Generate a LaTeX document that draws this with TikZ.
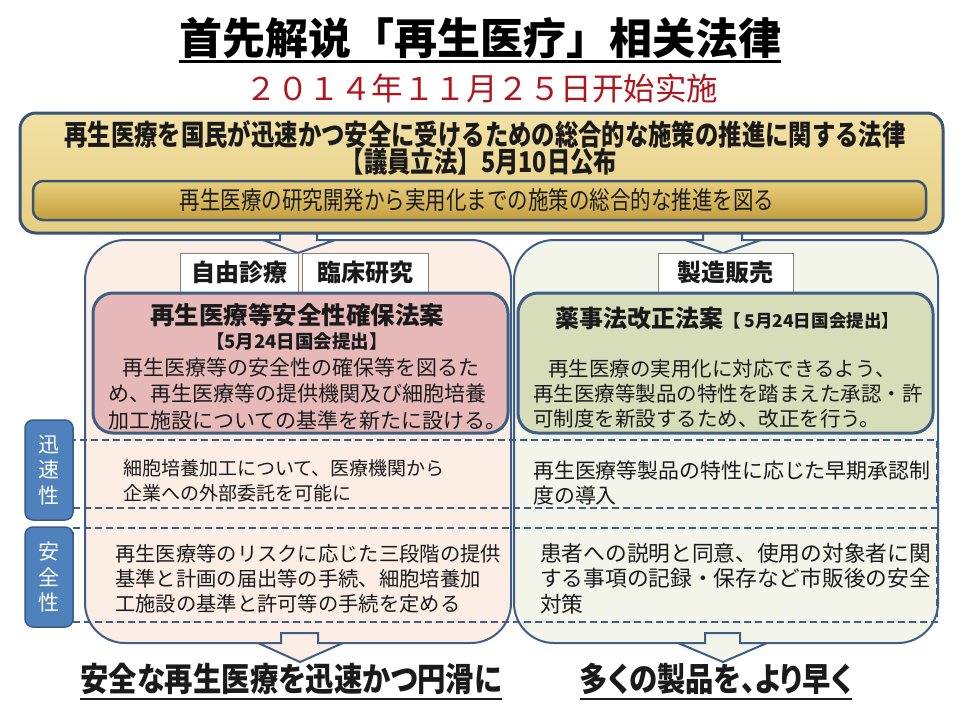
\documentclass[tikz,border=0pt]{standalone}
\usepackage{fontspec}
\newfontfamily\scfont{Noto Sans CJK SC}
\newfontfamily\jp{Noto Sans CJK JP}
\newfontfamily\jpc{Noto Sans CJK JP}[FakeStretch=0.82]
\newfontfamily\jpp{Noto Sans CJK JP}[FakeStretch=0.86,RawFeature=+palt]
\definecolor{bord}{HTML}{3F5E85}
\definecolor{topbord}{HTML}{3A5474}
\definecolor{lfill}{HTML}{FCEEE5}
\definecolor{rfill}{HTML}{F3F4EA}
\definecolor{pinkfill}{HTML}{E6B9B8}
\definecolor{greenfill}{HTML}{D8DDB9}
\definecolor{tabbord}{HTML}{7F7F7F}
\definecolor{labfill}{HTML}{4F81BD}
\definecolor{labbord}{HTML}{385D8A}
\definecolor{datered}{HTML}{B0141C}
\definecolor{goldA}{HTML}{F2E1A4}
\definecolor{goldB}{HTML}{D8B757}
\definecolor{goldC}{HTML}{E6CD82}
\definecolor{goldD}{HTML}{E8CF7A}
\definecolor{goldE}{HTML}{C49E40}
\definecolor{txt}{HTML}{1A1A1A}
\tikzset{
  bigbox/.style={draw=bord, line width=2pt, rounded corners=40pt, inner sep=0pt},
  lawbox/.style={draw=bord, line width=3pt, rounded corners=20pt, inner sep=0pt},
  tabbox/.style={draw=tabbord, line width=1pt, fill=white, inner sep=0pt, text=txt, font=\jp\bfseries\fontsize{24}{28}\selectfont},
  labbox/.style={draw=labbord, line width=1.5pt, fill=labfill, rounded corners=8pt, inner sep=0pt, text=white, align=center, font=\jp\fontsize{21}{25.5}\selectfont},
  rowbox/.style={draw=bord, line width=1.6pt, dash pattern=on 7pt off 4pt, inner sep=0pt},
  blockarrow/.style={draw=bord, line width=2pt, line join=miter},
  para/.style={anchor=base west, align=left, inner sep=0pt, text=txt},
  uline/.style={line width=2.5pt, draw=txt},
}
\begin{document}
\begin{tikzpicture}[x=1pt,y=-1pt]
\path[use as bounding box, fill=white] (0,0) rectangle (960,720);

% big boxes
\node[bigbox, fill=lfill, minimum width=426pt, minimum height=403pt] (lbig) at (298,441.5) {};
\node[bigbox, fill=rfill, minimum width=424pt, minimum height=403pt] (rbig) at (726,441.5) {};

% top block arrows
\fill[lfill] (280,222) rectangle (317,241.5);
\fill[lfill] (263,240) -- (335,240) -- (298,253) -- cycle;
\draw[blockarrow] (280,222) -- (280,240) -- (263,240) -- (298,253) -- (335,240) -- (317,240) -- (317,222);
\fill[rfill] (703,222) rectangle (742,241.5);
\fill[rfill] (685,240) -- (761,240) -- (723,253) -- cycle;
\draw[blockarrow] (703,222) -- (703,240) -- (685,240) -- (723,253) -- (761,240) -- (742,240) -- (742,222);

% bottom block arrows
\fill[lfill] (281,633) rectangle (318,645);
\fill[lfill] (258,643) -- (343,643) -- (300,662) -- cycle;
\draw[blockarrow] (281,633) -- (318,633) -- (318,643) -- (343,643) -- (300,662) -- (258,643) -- (281,643) -- cycle;
\fill[rfill] (705,633) rectangle (740,645);
\fill[rfill] (678,643) -- (767,643) -- (723,662) -- cycle;
\draw[blockarrow] (705,633) -- (740,633) -- (740,643) -- (767,643) -- (723,662) -- (678,643) -- (705,643) -- cycle;

% top gold box
\node[draw=topbord, line width=3pt, rounded corners=16pt, inner sep=0pt,
      top color=goldA, middle color=goldB, bottom color=goldC,
      minimum width=923pt, minimum height=120pt] (top) at (481.5,173) {};
\node[draw=topbord, line width=2.5pt, rounded corners=10pt, inner sep=0pt,
      top color=goldD, bottom color=goldE,
      minimum width=893pt, minimum height=39pt] (topin) at (479.5,200.5) {};
\node[inner sep=0pt, text=txt, font=\jpc\bfseries\fontsize{28.5}{32}\selectfont] (topl1) at (485,134) {再生医療を国民が迅速かつ安全に受けるための総合的な施策の推進に関する法律};
\node[inner sep=0pt, text=txt, font=\jpc\bfseries\fontsize{28.5}{32}\selectfont] (topl2) at (479,162) {【議員立法】5月10日公布};
\node[inner sep=0pt, text=txt, font=\jpc\fontsize{25}{30}\selectfont] (topl3) at (477,200) {再生医療の研究開発から実用化までの施策の総合的な推進を図る};

% tabs
\node[tabbox, minimum width=118pt, minimum height=39pt] (tab1) at (239,272.5) {自由診療};
\node[tabbox, minimum width=126pt, minimum height=39pt] (tab2) at (365,272.5) {臨床研究};
\node[tabbox, minimum width=135pt, minimum height=39pt] (tab3) at (725.5,272.5) {製造販売};

% law boxes
\node[lawbox, fill=pinkfill, minimum width=415pt, minimum height=140pt] (pink) at (300.5,363) {};
\node[lawbox, fill=greenfill, minimum width=415pt, minimum height=140pt] (green) at (725.5,363) {};

\node[inner sep=0pt, text=txt, font=\jp\bfseries\fontsize{24.5}{28}\selectfont] (pinkt) at (297,315) {再生医療等安全性確保法案};
\node[inner sep=0pt, text=txt, font=\jp\bfseries\fontsize{18.5}{22}\selectfont] (pinkd) at (297,341) {【5月24日国会提出】};
\node[para, font=\jp\fontsize{21}{26.5}\selectfont] (pinkb) at (108,428) {\hspace{14pt}再生医療等の安全性の確保等を図るた\\め、再生医療等の提供機関及び細胞培養\\加工施設についての基準を新たに設ける。};

\node[anchor=base, inner sep=0pt, text=txt, font=\jp\bfseries] (greent) at (727,327) {{\fontsize{24}{28}\selectfont 薬事法改正法案}{\fontsize{17.5}{20}\selectfont【 5月24日国会提出】}};
\node[para, font=\jp\fontsize{20.5}{25}\selectfont] (greenb) at (533,426) {\hspace{15pt}再生医療の実用化に対応できるよう、\\再生医療等製品の特性を踏まえた承認・許\\可制度を新設するため、改正を行う。};

% dashed rows
\node[rowbox, minimum width=864pt, minimum height=68pt] (row1) at (505,474) {};
\node[rowbox, minimum width=864pt, minimum height=94pt] (row2) at (505,575) {};

% side labels
\node[labbox, minimum width=48pt, minimum height=100pt] (lab1) at (49,470) {迅\\速\\性};
\node[labbox, minimum width=48pt, minimum height=100pt] (lab2) at (49,577) {安\\全\\性};

% row texts
\node[para, font=\jp\fontsize{19}{25}\selectfont] (r1l) at (123,500) {細胞培養加工について、医療機関から\\企業への外部委託を可能に};
\node[para, font=\jp\fontsize{20.3}{25}\selectfont] (r2l) at (115,611) {再生医療等のリスクに応じた三段階の提供\\基準と計画の届出等の手続、細胞培養加\\工施設の基準と許可等の手続を定める};
\node[para, font=\jp\fontsize{20.9}{25}\selectfont] (r1r) at (533,503) {再生医療等製品の特性に応じた早期承認制\\度の導入};
\node[para, font=\jp\fontsize{21.7}{25.5}\selectfont] (r2r) at (540,612) {患者への説明と同意、使用の対象者に関\\する事項の記録・保存など市販後の安全\\対策};

% title
\node[inner sep=0pt, text=black, font=\scfont\bfseries\fontsize{43}{50}\selectfont] (title) at (480,38) {首先解说「再生医疗」相关法律};
\draw[line width=3pt] ([yshift=-3pt]title.south west) -- ([yshift=-3pt]title.south east);
\node[inner sep=0pt, text=datered, font=\scfont\fontsize{31.5}{36}\selectfont] (date) at (482,88) {２０１４年１１月２５日开始实施};

% bottom conclusions
\node[inner sep=0pt, text=txt, font=\jpp\bfseries\fontsize{33}{36}\selectfont] (concl) at (291,679) {安全な再生医療を迅速かつ円滑に};
\draw[uline] ([yshift=-4pt]concl.south west) -- ([yshift=-4pt]concl.south east);
\node[inner sep=0pt, text=txt, font=\jpp\bfseries\fontsize{33}{36}\selectfont] (concr) at (716,679) {多くの製品を、より早く};
\draw[uline] ([yshift=-4pt]concr.south west) -- ([yshift=-4pt]concr.south east);
\end{tikzpicture}
\end{document}
